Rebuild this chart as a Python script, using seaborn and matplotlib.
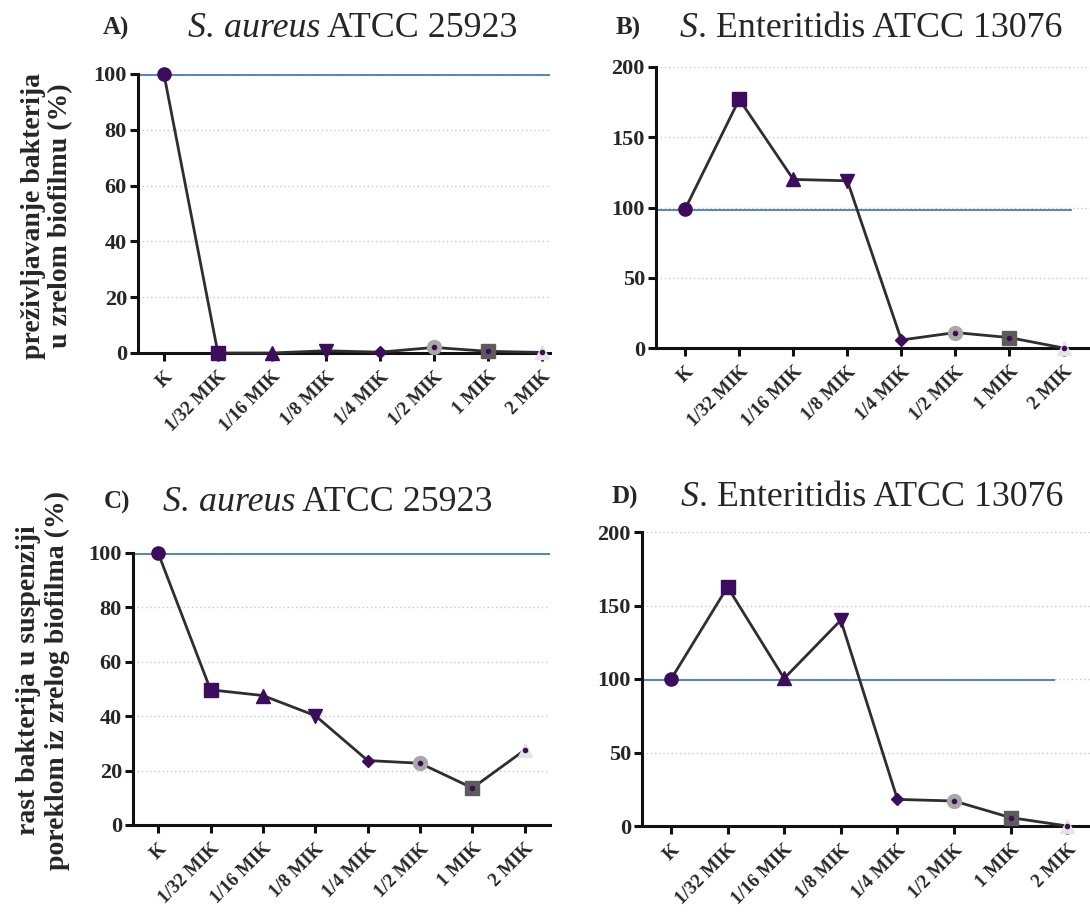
import matplotlib
matplotlib.use("Agg")
import matplotlib.pyplot as plt
import seaborn as sns
import numpy as np

sns.set_theme(style="white")
plt.rcParams["font.family"] = ["Liberation Serif", "DejaVu Serif"]

# Categories (treatment concentrations)
categories = ["K", "1/32 MIK", "1/16 MIK", "1/8 MIK", "1/4 MIK", "1/2 MIK", "1 MIK", "2 MIK"]

# Survival in mature biofilm (%)
aureus_biofilm = [100, 0, 0, 0.8, 0.3, 2.0, 0.6, 0.2]
enteritidis_biofilm = [99, 177, 120, 119, 5.7, 11, 7.4, 0]
# Growth in suspension originating from mature biofilm (%)
aureus_suspension = [100, 49.7, 47.6, 40.2, 23.7, 22.7, 13.6, 27.6]
enteritidis_suspension = [99.7, 162.6, 100.4, 140, 18.1, 17, 5.7, 0]

control_level = [99.7, 98.5, 99.6, 99.2]

# (italic part, upright part) of each panel title
titles = [("S. aureus", " ATCC 25923"), ("S", ". Enteritidis ATCC 13076"),
          ("S. aureus", " ATCC 25923"), ("S", ". Enteritidis ATCC 13076")]
letters = ["A)", "B)", "C)", "D)"]
ylabels = ["preživljavanje bakterija\nu zrelom biofilmu (%)",
           "rast bakterija u suspenziji\nporeklom iz zrelog biofilma (%)"]

PURPLE = "#3d0c5e"
marker_styles = [
    ("o", PURPLE, 9.5),
    ("s", PURPLE, 9.5),
    ("^", PURPLE, 9.5),
    ("v", PURPLE, 9.5),
    ("D", PURPLE, 6.0),
    ("o", "#a8a8a8", 10),
    ("s", "#5c5c5c", 10),
    ("^", "#e4e4e4", 10),
]

W, H = 1090, 916
fig = plt.figure(figsize=(W / 100, H / 100), dpi=100)


def px_axes(left, right, top, bottom):
    return fig.add_axes([left / W, 1 - bottom / H, (right - left) / W, (bottom - top) / H])


panels = [
    dict(box=(138, 550, 74, 353), data=aureus_biofilm, ymax=100, yt=[0, 20, 40, 60, 80, 100],
         xlim=(-0.48, 7.15), hline_end=7.15),
    dict(box=(656, 1090, 67, 348), data=enteritidis_biofilm, ymax=200, yt=[0, 50, 100, 150, 200],
         xlim=(-0.54, 7.49), hline_end=7.15),
    dict(box=(133, 550, 553, 825), data=aureus_suspension, ymax=100, yt=[0, 20, 40, 60, 80, 100],
         xlim=(-0.48, 7.48), hline_end=7.48),
    dict(box=(642, 1090, 532, 826), data=enteritidis_suspension, ymax=200, yt=[0, 50, 100, 150, 200],
         xlim=(-0.51, 7.4), hline_end=6.78),
]

title_pos = [(188, 103, 28), (680, 616, 28), (163, 104, 502), (681, 611, 497)]

renderer = fig.canvas.get_renderer()

for i, p in enumerate(panels):
    ax = px_axes(*p["box"])
    xpos = np.arange(len(categories))
    vals = p["data"]

    # dotted grid
    for yv in p["yt"][1:]:
        ax.axhline(yv, color="#c8c8c8", ls=(0, (1, 2)), lw=1.0, zorder=0)

    # control reference
    ax.hlines(control_level[i], p["xlim"][0], p["hline_end"], color="#4f82cf", lw=1.4, zorder=1)

    sns.lineplot(x=xpos, y=vals, ax=ax, color="#2e2e2e", lw=2.0, zorder=3, clip_on=False)

    for k, (m, c, ms) in enumerate(marker_styles):
        ax.plot(xpos[k], vals[k], marker=m, color=c, ms=ms, mec=c, ls="none",
                zorder=4, clip_on=False)
        if k >= 5:
            ax.plot(xpos[k], vals[k], marker="o", color=PURPLE, ms=3, ls="none",
                    zorder=5, clip_on=False)

    ax.set_xlim(*p["xlim"])
    ax.set_ylim(0, p["ymax"])
    ax.set_yticks(p["yt"])
    ax.set_yticklabels([str(v) for v in p["yt"]], fontsize=16, fontweight="bold")
    ax.set_xticks(xpos)
    ax.set_xticklabels(categories, rotation=45, ha="right", rotation_mode="anchor",
                       fontsize=13.5, fontweight="bold")
    sns.despine(ax=ax)
    for s in ("left", "bottom"):
        ax.spines[s].set_linewidth(2.2)
        ax.spines[s].set_color("#111111")
    ax.tick_params(axis="both", direction="out", length=6, width=2.2, color="#111111",
                   left=True, bottom=True)
    ax.tick_params(axis="y", pad=2)
    ax.tick_params(axis="x", pad=5)
    ax.grid(False)
    ax.set_facecolor("none")

    tx, lx, ty = title_pos[i]
    fig.text(lx / W, 1 - ty / H, letters[i], fontsize=18, fontweight="bold", va="center", ha="left")
    it_part, rm_part = titles[i]
    t1 = fig.text(tx / W, 1 - (ty + 9) / H, it_part, fontsize=25.8, style="italic",
                  va="baseline", ha="left")
    bb = t1.get_window_extent(renderer)
    fig.text(bb.x1 / W, 1 - (ty + 9) / H, rm_part, fontsize=25.8, va="baseline", ha="left")

fig.text(47 / W, 1 - 216 / H, ylabels[0], rotation=90, ha="center", va="center",
         fontsize=20, fontweight="bold", multialignment="center", linespacing=1.15)
fig.text(43 / W, 1 - 680 / H, ylabels[1], rotation=90, ha="center", va="center",
         fontsize=20, fontweight="bold", multialignment="center", linespacing=1.15)

fig.savefig("out.png", dpi=100, facecolor="white")
